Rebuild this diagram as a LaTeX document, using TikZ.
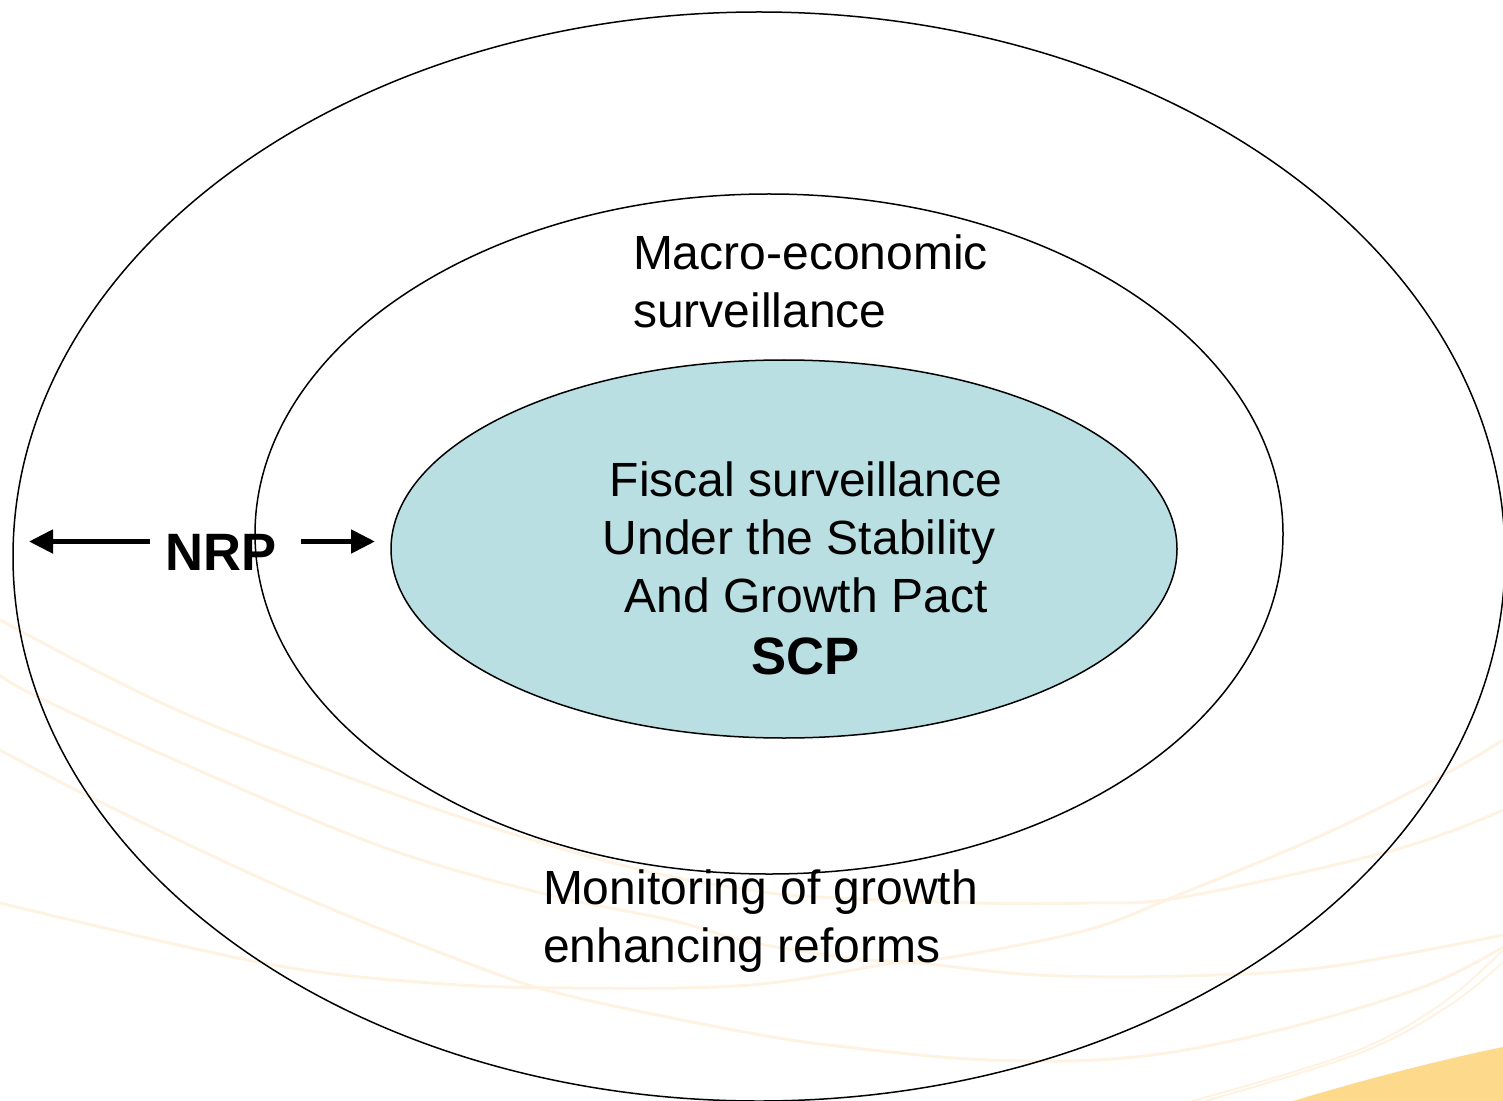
\documentclass[tikz,border=0pt]{standalone}
\usepackage{fontspec}
\setmainfont{Liberation Sans}
\usetikzlibrary{shapes.geometric,arrows.meta}
\definecolor{swoosh}{HTML}{FEF3E2}
\definecolor{wedge}{HTML}{FDD98C}
\definecolor{teal}{HTML}{B9DFE3}
\tikzset{
  ring/.style={ellipse,draw=black,line width=0.75pt,inner sep=0pt,outer sep=0pt},
  swooshline/.style={draw=swoosh,line width=1.5pt,smooth,tension=0.6},
  body/.style={font=\fontsize{24}{29}\selectfont,inner sep=0pt,outer sep=0pt},
  boldtxt/.style={font=\fontsize{26.3}{29}\selectfont\bfseries,inner sep=0pt,outer sep=0pt},
  pointer/.style={line width=2.5pt,-{Triangle[length=12pt,width=11.5pt]}}
}
\begin{document}
\begin{tikzpicture}[x=0.5pt,y=-0.5pt]
\useasboundingbox (0,0) rectangle (1503,1101);
\clip (0,0) rectangle (1503,1101);
% background
\fill[wedge] (1293,1101) .. controls (1370,1078) and (1440,1060) .. (1503,1047) -- (1503,1101) -- cycle;
\draw[swooshline] plot coordinates {(0,620) (177,710) (383,790) (526,838) (650,872) (750,890) (817,897) (976,903) (1087,903) (1183,897) (1394,850) (1503,810)};
\draw[swooshline] plot coordinates {(0,675) (38,697) (191,767) (383,847) (541,893) (670,920) (750,942) (850,958) (918,963) (1038,975) (1183,976) (1327,967) (1503,935)};
\draw[swooshline] plot coordinates {(0,750) (96,800) (287,890) (478,967) (574,997) (750,1033) (846,1047) (990,1060) (1135,1057) (1279,1030) (1423,987) (1503,947)};
\draw[swooshline] plot coordinates {(0,903) (263,963) (431,983) (574,988) (750,985) (894,963) (952,957) (1087,930) (1183,893) (1327,833) (1447,773) (1503,740)};
\draw[swooshline,line width=1pt] plot coordinates {(1192,1101) (1351,1053) (1440,1005) (1503,950)};
\draw[swooshline,line width=1pt] plot coordinates {(1205,1101) (1360,1053) (1450,1005) (1503,962)};
% ellipses
\node[ring,minimum width=746pt,minimum height=544.5pt] (outer) at (759,556.5) {};
\node[ring,minimum width=514pt,minimum height=340pt] (middle) at (769,534) {};
\node[ring,fill=teal,minimum width=393pt,minimum height=189pt] (inner) at (784,549) {};
% texts
\node[body,align=left,anchor=north west] (macro) at (633,235) {Macro-economic\\surveillance};
\node[body,align=center] (fiscal) at (806,537) {Fiscal surveillance\\Under the Stability\rule{7pt}{0pt}\\And Growth Pact};
\node[boldtxt] (scp) at (805.5,656) {SCP};
\node[body,align=left,anchor=north west] (monitor) at (543,870) {Monitoring of growth\\enhancing reforms};
\node[boldtxt] (nrp) at (221,552) {NRP};
% arrows
\coordinate (leftstart) at (150,541.5);
\coordinate (lefttip) at (29,541.5);
\coordinate (rightstart) at (301,541.5);
\coordinate (righttip) at (375,541.5);
\draw[pointer] (leftstart) -- (lefttip);
\draw[pointer] (rightstart) -- (righttip);
\end{tikzpicture}
\end{document}
